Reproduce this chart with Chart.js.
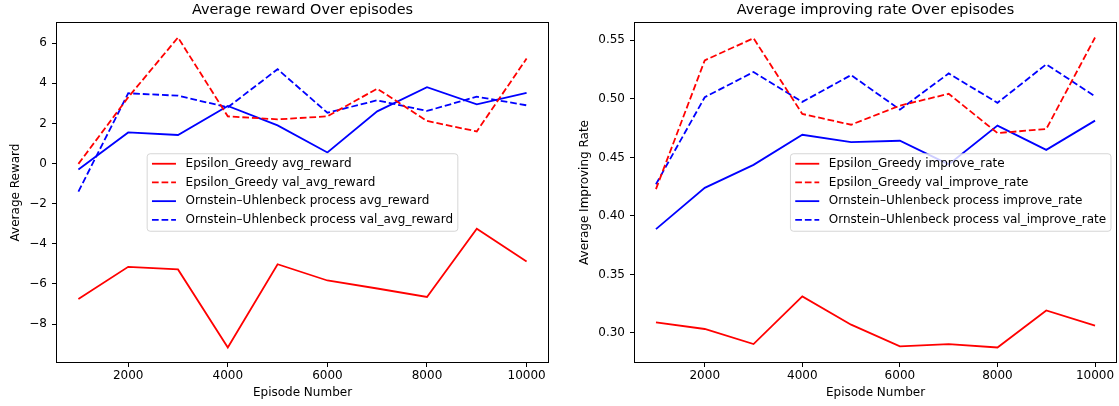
<!DOCTYPE html>
<html>
<head>
<meta charset="utf-8">
<script src="https://cdn.jsdelivr.net/npm/chart.js@4"></script>
<style>
  html, body { margin: 0; padding: 0; background: #fff; }
  #wrap { position: relative; width: 1119px; height: 406px; overflow: hidden; }
  canvas { position: absolute; top: 0; }
  #rewardChart { left: 0; }
  #rateChart { left: 560px; }
</style>
</head>
<body>
<div id="wrap">
  <canvas id="rewardChart" width="560" height="406"></canvas>
  <canvas id="rateChart" width="559" height="406"></canvas>
</div>
<script>
// Episode numbers shared by both plots
const episodes = [1000, 2000, 3000, 4000, 5000, 6000, 7000, 8000, 9000, 10000];

// Left plot: average reward
const egReward     = [-6.75, -5.15, -5.28, -9.17, -5.02, -5.83, -6.23, -6.65, -3.25, -4.88];
const egValReward  = [-0.02, 3.30, 6.28, 2.35, 2.20, 2.35, 3.73, 2.12, 1.60, 5.23];
const ouReward     = [-0.30, 1.55, 1.42, 2.87, 1.90, 0.55, 2.60, 3.80, 2.95, 3.52];
const ouValReward  = [-1.40, 3.50, 3.38, 2.80, 4.70, 2.53, 3.15, 2.62, 3.33, 2.90];

// Right plot: average improving rate
const egRate       = [0.3090, 0.3034, 0.2905, 0.3312, 0.3071, 0.2885, 0.2905, 0.2876, 0.3192, 0.3063];
const egValRate    = [0.4229, 0.5329, 0.5518, 0.4871, 0.4779, 0.4942, 0.5043, 0.4708, 0.4742, 0.5524];
const ouRate       = [0.3887, 0.4240, 0.4436, 0.4693, 0.4631, 0.4642, 0.4440, 0.4771, 0.4564, 0.4814];
const ouValRate    = [0.4270, 0.5014, 0.5229, 0.4974, 0.5203, 0.4908, 0.5217, 0.4966, 0.5295, 0.5022];

// Tick values
const xTicks       = [2000, 4000, 6000, 8000, 10000];
const rewardTicks  = [-8, -6, -4, -2, 0, 2, 4, 6];
const rateTicks    = [0.30, 0.35, 0.40, 0.45, 0.50, 0.55];

const FONT = '"DejaVu Sans", sans-serif';
Chart.defaults.font.family = FONT;
Chart.defaults.color = '#000';

// matplotlib style auto limits (5% margin)
function padRange(arrays) {
    const all = [].concat(...arrays);
    const lo = Math.min(...all), hi = Math.max(...all);
    const m = (hi - lo) * 0.05;
    return [lo - m, hi + m];
}

function pts(arr) {
    return episodes.map((e, i) => ({ x: e, y: arr[i] }));
}

// Frame and title drawn over the plot area
const framePlugin = {
    id: 'frame',
    afterDraw(chart, args, opts) {
        const c = chart.ctx, a = chart.chartArea;
        c.save();
        c.strokeStyle = '#000';
        c.lineWidth = 1;
        const l = Math.round(a.left) + 0.5, t = Math.round(a.top) + 0.5;
        const r = Math.round(a.right) - 0.5, b = Math.round(a.bottom) - 0.5;
        c.strokeRect(l, t, r - l, b - t);
        c.fillStyle = '#000';
        c.font = '14.4px ' + FONT;
        c.textAlign = 'center';
        c.textBaseline = 'middle';
        c.fillText(opts.text, (a.left + a.right) / 2, 10);
        c.restore();
    }
};

// Legend box inside the plot area
const boxLegend = {
    id: 'boxLegend',
    afterDatasetsDraw(chart, args, opts) {
        const c = chart.ctx, a = chart.chartArea;
        const sets = chart.data.datasets;
        c.save();
        c.font = '12px ' + FONT;
        const textW = Math.max(...sets.map(d => c.measureText(d.label).width));
        const w = 4.8 + 24 + 9.6 + textW + 4.8;
        const h = 77.5;
        let x;
        if (opts.loc === 'right') {
            x = a.right - 6 - w;
        } else {
            x = (a.left + a.right) / 2 - w / 2;
        }
        const y = (a.top + a.bottom) / 2 - h / 2;

        c.beginPath();
        c.roundRect(x, y, w, h, 3);
        c.fillStyle = 'rgba(255,255,255,0.8)';
        c.fill();
        c.strokeStyle = 'rgba(204,204,204,0.8)';
        c.lineWidth = 1;
        c.stroke();

        sets.forEach((d, i) => {
            const ry = y + 10 + i * 18.7;
            c.beginPath();
            c.setLineDash(d.borderDash || []);
            c.strokeStyle = d.borderColor;
            c.lineWidth = d.borderWidth;
            c.moveTo(x + 4.8, ry);
            c.lineTo(x + 28.8, ry);
            c.stroke();
            c.setLineDash([]);
            c.fillStyle = '#000';
            c.textAlign = 'left';
            c.textBaseline = 'middle';
            c.fillText(d.label, x + 38.4, ry);
        });
        c.restore();
    }
};

function makeChart(id, cfg) {
    const ctx = document.getElementById(id).getContext('2d');
    const dash = [6.7, 2.9];
    const mk = (label, arr, color, dashed) => ({
        label: label,
        data: pts(arr),
        borderColor: color,
        backgroundColor: color,
        borderWidth: 1.8,
        borderDash: dashed ? dash : [],
        pointRadius: 0,
        tension: 0,
        fill: false
    });
    const [ymin, ymax] = padRange(cfg.series.map(s => s[1]));
    return new Chart(ctx, {
        type: 'line',
        data: {
            datasets: cfg.series.map(s => mk(s[0], s[1], s[2], s[3]))
        },
        options: {
            responsive: false,
            animation: false,
            layout: { padding: cfg.padding },
            plugins: {
                legend: { display: false },
                tooltip: { enabled: false },
                frame: { text: cfg.title },
                boxLegend: { loc: cfg.legendLoc }
            },
            scales: {
                x: {
                    type: 'linear',
                    min: 550,
                    max: 10450,
                    afterBuildTicks: s => { s.ticks = xTicks.map(v => ({ value: v })); },
                    afterFit: s => { s.height = 43; },
                    ticks: {
                        padding: 2,
                        maxRotation: 0,
                        autoSkip: false,
                        font: { size: 12 },
                        callback: v => String(v)
                    },
                    grid: { drawOnChartArea: false, drawTicks: true, tickLength: 4, color: '#000' },
                    border: { display: false },
                    title: {
                        display: true,
                        text: 'Episode Number',
                        font: { size: 12 },
                        padding: { top: 0, bottom: 5.8 }
                    }
                },
                y: {
                    type: 'linear',
                    min: ymin,
                    max: ymax,
                    afterBuildTicks: s => { s.ticks = cfg.yTicks.map(v => ({ value: v })); },
                    afterFit: s => { s.width = cfg.yWidth; },
                    ticks: {
                        padding: 5,
                        autoSkip: false,
                        font: { size: 12 },
                        callback: cfg.yFormat
                    },
                    grid: { drawOnChartArea: false, drawTicks: true, tickLength: 4, color: '#000' },
                    border: { display: false },
                    title: {
                        display: true,
                        text: cfg.yTitle,
                        font: { size: 12 },
                        padding: { top: 8.8, bottom: 0 }
                    }
                }
            }
        },
        plugins: [framePlugin, boxLegend]
    });
}

document.addEventListener('DOMContentLoaded', function() {
    // Left chart
    makeChart('rewardChart', {
        title: 'Average reward Over episodes',
        yTitle: 'Average Reward',
        yTicks: rewardTicks,
        yFormat: v => (v < 0 ? '\u2212' + Math.abs(v) : String(v)),
        yWidth: 56,
        padding: { left: 0, top: 22, right: 11, bottom: 0 },
        legendLoc: 'center',
        series: [
            ['Epsilon_Greedy avg_reward', egReward, 'red', false],
            ['Epsilon_Greedy val_avg_reward', egValReward, 'red', true],
            ['Ornstein\u2013Uhlenbeck process avg_reward', ouReward, 'blue', false],
            ['Ornstein\u2013Uhlenbeck process val_avg_reward', ouValReward, 'blue', true]
        ]
    });

    // Right chart
    makeChart('rateChart', {
        title: 'Average improving rate Over episodes',
        yTitle: 'Average Improving Rate',
        yTicks: rateTicks,
        yFormat: v => Number(v).toFixed(2),
        yWidth: 65,
        padding: { left: 9, top: 22, right: 2, bottom: 0 },
        legendLoc: 'right',
        series: [
            ['Epsilon_Greedy improve_rate', egRate, 'red', false],
            ['Epsilon_Greedy val_improve_rate', egValRate, 'red', true],
            ['Ornstein\u2013Uhlenbeck process improve_rate', ouRate, 'blue', false],
            ['Ornstein\u2013Uhlenbeck process val_improve_rate', ouValRate, 'blue', true]
        ]
    });
});
</script>
</body>
</html>
